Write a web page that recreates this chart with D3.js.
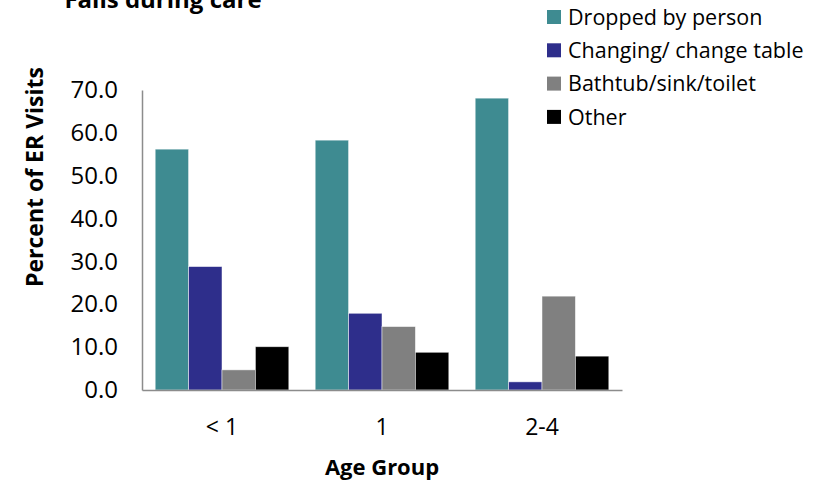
<!DOCTYPE html>
<html><head><meta charset="utf-8">
<script src="https://cdn.jsdelivr.net/npm/d3@7"></script>
<style>body{margin:0;background:#fff}svg{display:block}text{font-family:"Open Sans",Lato,sans-serif}</style>
</head><body>
<svg id="c" width="825" height="480"></svg>
<script>
const categories = ["< 1", "1", "2-4"];
const seriesNames = ["Dropped by person", "Changing/ change table", "Bathtub/sink/toilet", "Other"];
const dropped = [56.2, 58.3, 68.1];
const changing = [28.8, 17.9, 1.9];
const bathtub = [4.7, 14.8, 21.9];
const other = [10.1, 8.8, 7.9];
const yTicks = [0, 10, 20, 30, 40, 50, 60, 70];
const colors = ["#3E8B91", "#2E2E8B", "#808080", "#000000"];

const series = [dropped, changing, bathtub, other];
const svg = d3.select("#c");
const m = {left: 142, right: 622, top: 90, bottom: 390};

const x = d3.scaleBand().domain(categories).range([m.left, m.right]).paddingInner(0).paddingOuter(0);
const x1 = d3.scaleBand().domain(d3.range(4)).range([0, x.bandwidth()]).paddingInner(0).paddingOuter(0.395);
const y = d3.scaleLinear().domain([0, 70]).range([m.bottom, m.top]);

// bars
categories.forEach((c, ci) => {
  const g = svg.append("g").attr("transform", `translate(${x(c)},0)`);
  series.forEach((s, si) => {
    g.append("rect")
      .attr("x", x1(si)).attr("width", x1.bandwidth())
      .attr("y", y(s[ci])).attr("height", y(0) - y(s[ci]))
      .attr("fill", colors[si]).attr("stroke", "#ffffff").attr("stroke-opacity", 0.6).attr("stroke-width", 0.8);
  });
});

// y axis
const ya = svg.append("g").attr("transform", `translate(${m.left},0)`)
  .call(d3.axisLeft(y).tickValues(yTicks).tickFormat(d3.format(".1f")).tickSize(0).tickPadding(24));
ya.select(".domain").attr("stroke", "#8c8c8c").attr("stroke-width", 1.5);
ya.selectAll("text").attr("font-size", 24).attr("fill", "#000").attr("font-family", "'Open Sans', sans-serif");

// x axis
const xa = svg.append("g").attr("transform", `translate(0,${m.bottom})`)
  .call(d3.axisBottom(x).tickSize(0).tickPadding(29));
xa.select(".domain").attr("stroke", "#8c8c8c").attr("stroke-width", 1.5);
xa.selectAll("text").attr("font-size", 23).attr("fill", "#000").attr("font-family", "'Open Sans', sans-serif");

// titles
svg.append("text").attr("x", 163).attr("y", 8).attr("text-anchor", "middle")
  .attr("font-size", 24).attr("font-weight", "bold").text("Falls during care");
svg.append("text").attr("transform", "translate(43,177) rotate(-90)").attr("text-anchor", "middle")
  .attr("font-size", 23).attr("font-weight", "bold").text("Percent of ER Visits");
svg.append("text").attr("x", 382).attr("y", 475).attr("text-anchor", "middle")
  .attr("font-size", 22).attr("font-weight", "bold").text("Age Group");

// legend
const lg = svg.append("g");
seriesNames.forEach((n, i) => {
  const cy = 17 + i * 33.3;
  lg.append("rect").attr("x", 547).attr("y", cy - 7).attr("width", 14).attr("height", 14).attr("fill", colors[i]);
  lg.append("text").attr("x", 568).attr("y", cy).attr("dy", "0.36em").attr("font-size", 21.5).text(n);
});
</script>
</body></html>
